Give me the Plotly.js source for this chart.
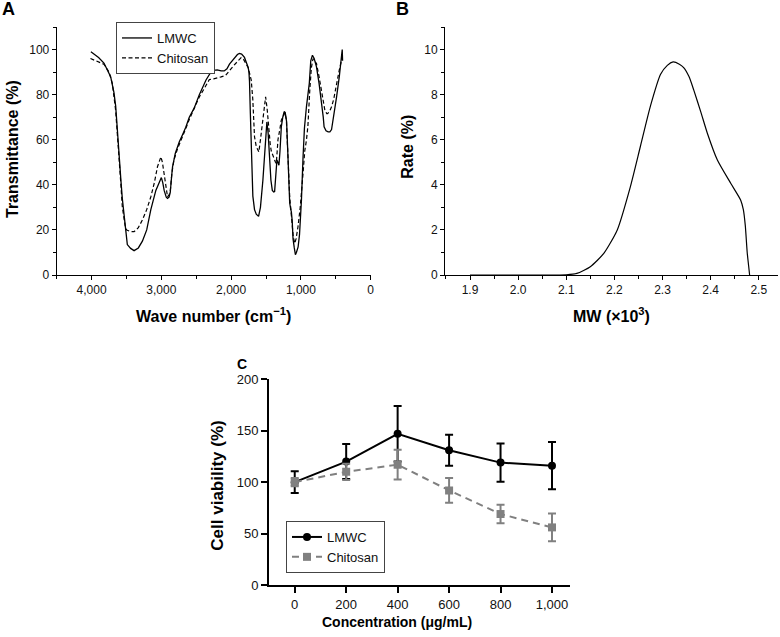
<!DOCTYPE html>
<html><head><meta charset="utf-8">
<script src="https://cdn.plot.ly/plotly-3.0.1.min.js"></script>
<style>html,body{margin:0;padding:0;background:#fff}</style>
</head><body><div id="chart" style="width:780px;height:637px"></div>
<script>
// Panel A: FTIR spectra
const lmwcWave = [4010,3900,3823,3727,3680,3655,3632,3607,3580,3560,3520,3488,3440,3391,3330,3272,3210,3151,3079,3030,3000,2980,2960,2930,2912,2890,2873,2855,2840,2800,2768,2744,2700,2650,2600,2530,2456,2400,2360,2300,2250,2200,2144,2100,2060,2024,1960,1910,1881,1850,1809,1780,1755,1745,1737,1725,1712,1700,1689,1665,1640,1607,1580,1545,1515,1500,1488,1470,1449,1430,1410,1390,1377,1360,1344,1330,1315,1300,1281,1260,1240,1225,1205,1190,1175,1161,1145,1137,1125,1113,1095,1079,1065,1050,1040,1020,993,970,950,921,898,880,859,835,810,777,740,705,680,668,640,610,585,561,520,489,450,417,408,403];
const lmwcTrans = [99,96.5,94,88,81,75,65,52,42,34,21,13.5,11.8,10.8,12,15,20,29,37.5,41.5,43.2,41,37.5,34.5,34,34.5,36.5,43,48,54,57,59,62,65.5,70,74,80,83.5,86.5,89.5,90.8,91,90.5,90.5,91.5,93.5,96,97.8,98.3,98,96.5,94,92,90,86,72,60,45,35,29,27,26,30,42,58,65,67.9,63,52.4,42,37.5,36.8,37,45,51,50,48.7,55,65.7,70,72.5,72,68,56,42,32,29,28,24,16,12,9,10,12,12.5,18,33,52,65,74.6,80.5,85,95,97.5,96,92.3,85,77.5,70,65.7,64,63.5,63.5,64.5,72,79,88,96.7,100,95];
const chitWave = [4016,3900,3823,3750,3703,3655,3630,3607,3580,3560,3520,3497,3440,3391,3330,3272,3210,3151,3100,3056,3020,3007,2985,2960,2930,2912,2890,2873,2850,2820,2768,2744,2700,2650,2600,2530,2456,2380,2312,2250,2200,2144,2080,2024,1960,1900,1856,1820,1790,1761,1740,1712,1690,1665,1640,1617,1603,1580,1554,1530,1506,1485,1459,1440,1425,1410,1395,1377,1365,1353,1340,1329,1300,1281,1257,1230,1209,1190,1175,1161,1145,1128,1110,1089,1070,1042,1010,970,945,921,900,873,850,826,800,777,740,705,680,657,630,619,590,561,530,489,450,417,405];
const chitTrans = [96,94.5,93.5,90,85,73,63,52.4,40,30.3,22,19.9,19.3,19.2,21,24.4,29,34.7,41,48,51.5,52.4,50,45,38,34.7,35.5,37,45,51,56,58,61.5,65,69,73.5,79,83,86.7,87,87.3,87.9,88.5,90.8,93,95,96.4,95.5,93.5,92.3,90,86.4,78,61.3,57,55,54.6,60,67.2,75,79,74,62.8,58,55,54,53,51,50,49.5,55,60,65,68.7,70.1,72,69,58,45,34.7,29,21.4,17,14,16,21.4,30,45,55,59.8,66,82,92,96,95,93.8,88,82,78,73.1,71.6,71.6,72.5,74.6,78,85,91,95.3,98.5];

// Panel B: MW distribution
const mw = [1.90,1.95,2.00,2.05,2.10,2.122,2.15,2.178,2.206,2.233,2.254,2.275,2.296,2.31,2.322,2.335,2.344,2.355,2.365,2.38,2.393,2.414,2.442,2.4625,2.468,2.472,2.476,2.479,2.481];
const rate = [0,0,0,0,0.01,0.07,0.37,0.96,2.0,3.9,5.7,7.5,8.9,9.3,9.45,9.35,9.2,8.8,8.2,7.2,6.3,5.1,4.06,3.32,2.9,2.2,1.0,0.4,0];

// Panel C: cell viability
const conc = [0,200,400,600,800,1000];
const lmwcViab = [100,120,147,131,119,116];
const lmwcErr = [10.5,17,27,15,18.5,23];
const chitViab = [100,110,117,92,69,56];
const chitErr = [4,8,14.5,12,9,13.5];

const W = 780, H = 637;
const fx = p => p / W;
const fy = p => 1 - p / H;

const FAM = '"Liberation Sans", Arial, sans-serif';
const tickAB = {family: FAM, size: 12, color: '#111'};
const sans = {family: FAM, size: 13, color: '#111'};
const bold16 = {family: FAM, size: 16, color: '#000', weight: 'bold'};
const boldC_y = {family: FAM, size: 17, color: '#000', weight: 'bold'};
const boldC_x = {family: FAM, size: 14, color: '#000', weight: 'bold'};

const traces = [
  {x: lmwcWave, y: lmwcTrans, xaxis: 'x', yaxis: 'y', mode: 'lines', name: 'LMWC',
   line: {color: '#000', width: 1.3}, legend: 'legend'},
  {x: chitWave, y: chitTrans, xaxis: 'x', yaxis: 'y', mode: 'lines', name: 'Chitosan',
   line: {color: '#000', width: 1.2, dash: '4px,2.5px'}, legend: 'legend'},
  {x: mw, y: rate, xaxis: 'x2', yaxis: 'y2', mode: 'lines', showlegend: false,
   line: {color: '#000', width: 1.2, shape: 'spline', smoothing: 0.6}},
  {x: conc, y: lmwcViab, xaxis: 'x3', yaxis: 'y3', mode: 'lines+markers', name: 'LMWC',
   line: {color: '#000', width: 2}, marker: {symbol: 'circle', size: 8, color: '#000'},
   error_y: {type: 'data', array: lmwcErr, visible: true, color: '#000', thickness: 2, width: 4},
   legend: 'legend2'},
  {x: conc, y: chitViab, xaxis: 'x3', yaxis: 'y3', mode: 'lines+markers', name: 'Chitosan',
   line: {color: '#808080', width: 2, dash: '7px,5px'}, marker: {symbol: 'square', size: 8, color: '#808080'},
   error_y: {type: 'data', array: chitErr, visible: true, color: '#808080', thickness: 2, width: 4},
   legend: 'legend2'}
];

function ax(extra) {
  return Object.assign({
    showline: true, linecolor: '#000', linewidth: 1, mirror: false,
    showgrid: false, zeroline: false, ticks: 'outside', ticklen: 4, tickwidth: 1,
    tickcolor: '#000', tickfont: tickAB, fixedrange: true
  }, extra);
}

function label(text, px, py, font, angle) {
  return {text: text, x: fx(px), y: fy(py), xref: 'paper', yref: 'paper', showarrow: false,
    xanchor: 'center', yanchor: 'middle', textangle: angle || 0, font: font};
}

const letterFont = {family: FAM, size: 18, color: '#000', weight: 'bold'};

const layout = {
  width: W, height: H, margin: {l: 0, r: 0, t: 0, b: 0},
  paper_bgcolor: '#fff', plot_bgcolor: 'rgba(0,0,0,0)',
  xaxis: ax({domain: [fx(56.7), fx(370.7)], anchor: 'y', range: [4500, 0], tick0: 0, dtick: 1000,
    tickformat: ',', minor: {dtick: 500, ticks: 'outside', ticklen: 3, tickcolor: '#000', showgrid: false}}),
  yaxis: ax({domain: [fy(275), fy(27)], anchor: 'x', range: [0, 110], tick0: 0, dtick: 20,
    minor: {dtick: 10, ticks: 'outside', ticklen: 3, tickcolor: '#000', showgrid: false}}),
  xaxis2: ax({domain: [fx(445), fx(778)], anchor: 'y2', range: [1.848, 2.54], tick0: 1.9, dtick: 0.1,
    tickformat: '.1f', minor: {dtick: 0.05, ticks: 'outside', ticklen: 3, tickcolor: '#000', showgrid: false}}),
  yaxis2: ax({domain: [fy(275), fy(27)], anchor: 'x2', range: [0, 11], tick0: 0, dtick: 2,
    minor: {dtick: 1, ticks: 'outside', ticklen: 3, tickcolor: '#000', showgrid: false}}),
  xaxis3: ax({domain: [fx(269), fx(570)], anchor: 'y3', range: [-100, 1070], tick0: 0, dtick: 200,
    tickformat: ',', linewidth: 2, tickwidth: 2, ticklen: 6, tickfont: sans}),
  yaxis3: ax({domain: [fy(585), fy(379.3)], anchor: 'x3', range: [0, 200], tick0: 0, dtick: 50,
    linewidth: 2, tickwidth: 2, ticklen: 6, tickfont: sans}),
  legend: {x: fx(116), y: fy(22), xanchor: 'left', yanchor: 'top', bgcolor: '#fff',
    bordercolor: '#444', borderwidth: 1, font: sans, tracegroupgap: 0},
  legend2: {x: fx(286), y: fy(521), xanchor: 'left', yanchor: 'top', bgcolor: '#fff',
    bordercolor: '#444', borderwidth: 1, font: sans, tracegroupgap: 0},
  annotations: [
    label('A', 8.5, 9, letterFont),
    label('B', 402.5, 9, letterFont),
    label('C', 242, 364, Object.assign({}, letterFont, {size: 14})),
    label('Transmittance (%)', 12, 149, bold16, -90),
    label('Wave number (cm<sup>−1</sup>)', 213.7, 315, bold16),
    label('Rate (%)', 406.7, 147, bold16, -90),
    label('MW (×10<sup>3</sup>)', 611.5, 315, bold16),
    label('Cell viability (%)', 216.7, 486, boldC_y, -90),
    label('Concentration (μg/mL)', 396.7, 622, boldC_x)
  ]
};

Plotly.newPlot('chart', traces, layout, {staticPlot: true, displayModeBar: false});
</script>
</body></html>
